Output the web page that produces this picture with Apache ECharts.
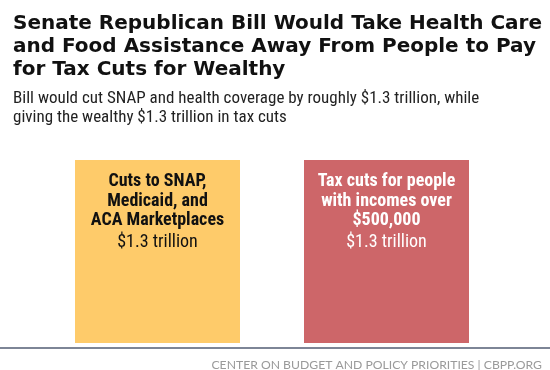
<!DOCTYPE html>
<html>
<head>
<meta charset="utf-8">
<script src="https://cdn.jsdelivr.net/npm/echarts@6/dist/echarts.min.js"></script>
<style>
  html, body { margin: 0; padding: 0; background: #fff; }
  #main { width: 550px; height: 370px; }
</style>
</head>
<body>
<div id="main"></div>
<script>
// categories, values and in-bar labels
var categories = ['Cuts to SNAP,\nMedicaid, and\nACA Marketplaces', 'Tax cuts for people\nwith incomes over\n$500,000'];
var values = [1.3, 1.3];
var valueLabels = ['$1.3 trillion', '$1.3 trillion'];
var barColors = ['#fecb6a', '#cd6669'];
var labelColors = ['#111111', '#ffffff'];

var myChart = echarts.init(document.getElementById('main'));

var option = {
    backgroundColor: '#ffffff',
    animation: false,
    title: [
        {
            text: 'Senate Republican Bill Would Take Health Care\nand Food Assistance Away From People to Pay\nfor Tax Cuts for Wealthy',
            left: 8,
            top: 7,
            textStyle: {
                fontFamily: 'DejaVu Sans',
                fontWeight: 'bold',
                fontSize: 20,
                lineHeight: 23,
                color: '#111111'
            }
        },
        {
            text: 'Bill would cut SNAP and health coverage by roughly $1.3 trillion, while\ngiving the wealthy $1.3 trillion in tax cuts',
            left: 8,
            top: 84,
            textStyle: {
                fontFamily: 'Roboto Condensed',
                fontWeight: 'normal',
                fontSize: 17,
                lineHeight: 19,
                color: '#222222'
            }
        },
        {
            text: 'CENTER ON BUDGET AND POLICY PRIORITIES | CBPP.ORG',
            right: 3,
            top: 354,
            textStyle: {
                fontFamily: 'Lato',
                fontWeight: 'normal',
                fontSize: 12.2,
                color: '#9a9a9a'
            }
        }
    ],
    grid: {
        left: 43,
        right: 49,
        top: 160,
        bottom: 27
    },
    xAxis: {
        type: 'category',
        data: categories,
        axisLine: { show: false },
        axisTick: { show: false },
        axisLabel: { show: false }
    },
    yAxis: {
        type: 'value',
        min: 0,
        max: 1.3,
        show: false,
        splitLine: { show: false }
    },
    graphic: [
        {
            type: 'line',
            shape: { x1: 0, y1: 348, x2: 550, y2: 348 },
            style: { stroke: '#7d8596', lineWidth: 2 }
        }
    ],
    series: [
        {
            type: 'bar',
            barWidth: 165,
            data: values.map(function (v, i) {
                return {
                    value: v,
                    itemStyle: { color: barColors[i] },
                    label: { color: labelColors[i] }
                };
            }),
            label: {
                show: true,
                position: 'insideTop',
                distance: 12,
                formatter: function (p) {
                    return '{name|' + categories[p.dataIndex] + '}\n{val|' + valueLabels[p.dataIndex] + '}';
                },
                rich: {
                    name: {
                        fontFamily: 'Roboto Condensed',
                        fontWeight: 'bold',
                        fontSize: 18,
                        lineHeight: 19.5,
                        align: 'center'
                    },
                    val: {
                        fontFamily: 'Roboto Condensed',
                        fontWeight: 'normal',
                        fontSize: 18,
                        lineHeight: 23,
                        align: 'center'
                    }
                }
            }
        }
    ]
};

myChart.setOption(option);
</script>
</body>
</html>
